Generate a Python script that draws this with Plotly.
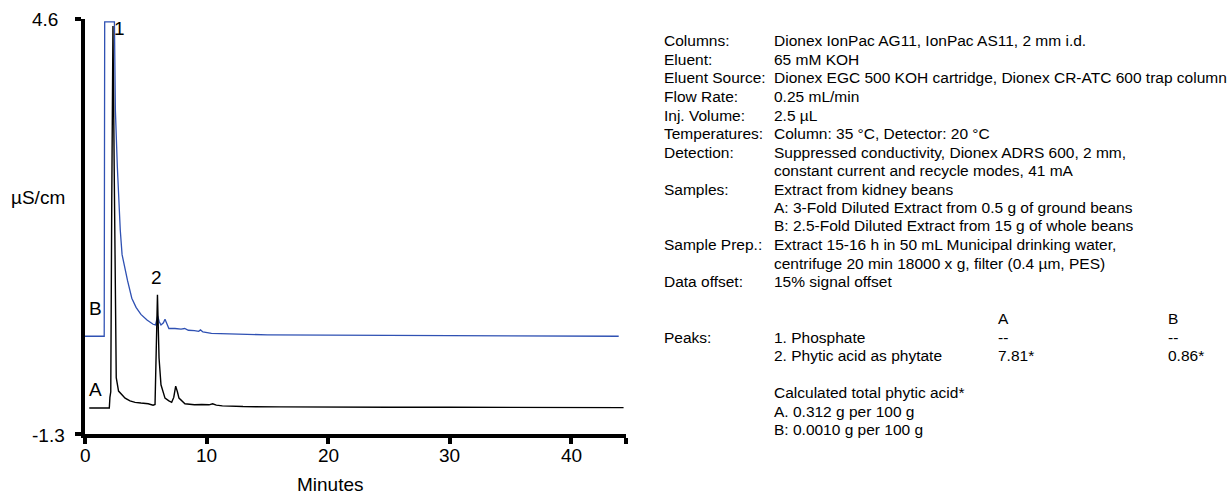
import plotly.graph_objects as go

# ---------------- data ----------------
time_B = [0, 1.58, 1.62, 2.42, 2.5, 2.6, 2.66, 2.7, 2.8, 2.9, 3.05, 3.25, 3.5, 3.85,
          4.2, 4.6, 5.1, 5.6, 5.8, 5.98, 6.1, 6.25, 6.45, 6.58, 6.75, 6.9, 7.4, 7.9,
          8.2, 8.5, 9.0, 9.35, 9.5, 9.7, 10.4, 12, 15, 20, 25, 30, 35, 40, 43.9]
signal_B = [0.09, 0.09, 4.56, 4.56, 3.3, 2.55, 2.5, 2.35, 1.95, 1.6, 1.25, 1.08, 0.88, 0.63,
            0.5, 0.4, 0.32, 0.26, 0.25, 0.38, 0.3, 0.25, 0.28, 0.33, 0.25, 0.2, 0.2, 0.19,
            0.2, 0.175, 0.17, 0.16, 0.18, 0.15, 0.13, 0.12, 0.11, 0.105, 0.1, 0.1, 0.095, 0.095, 0.09]

time_A = [0.35, 2.0, 2.05, 2.12, 2.2, 2.3, 2.4, 2.5, 2.57, 2.76, 3.0, 3.3, 3.7, 4.12, 4.6,
          5.2, 5.6, 5.72, 5.76, 5.96, 6.09, 6.25, 6.58, 6.9, 7.13, 7.3, 7.46, 7.6, 7.73,
          8.22, 9.0, 9.6, 10.2, 10.5, 10.8, 11.3, 13, 16, 20, 25, 30, 35, 40, 44.3]
signal_A = [-0.93, -0.93, -0.78, -0.7, 2.0, 4.5, 2.5, 0.2, -0.5, -0.69, -0.74, -0.79, -0.83, -0.85, -0.86,
            -0.87, -0.89, -0.89, -0.88, 0.68, -0.22, -0.6, -0.79, -0.83, -0.85, -0.78, -0.62, -0.7, -0.79,
            -0.87, -0.885, -0.88, -0.885, -0.87, -0.89, -0.9, -0.91, -0.915, -0.92, -0.92, -0.92, -0.925, -0.925, -0.925]

x_ticks = [0, 10, 20, 30, 40]
x_end = 44.5
y_min, y_max = -1.3, 4.6

peak_labels = ["1", "2"]
peak_label_x = [2.85, 5.9]
peak_label_y = [4.47, 0.93]
trace_labels = ["B", "A"]
trace_label_x = [0.9, 0.9]
trace_label_y = [0.49, -0.67]

info_labels = ["Columns:", "Eluent:", "Eluent Source:", "Flow Rate:", "Inj. Volume:",
               "Temperatures:", "Detection:", "", "Samples:", "", "", "Sample Prep.:", "",
               "Data offset:", "", "", "Peaks:", "", "", "", "", ""]
info_values = ["Dionex IonPac AG11, IonPac AS11, 2 mm i.d.",
               "65 mM KOH",
               "Dionex EGC 500 KOH cartridge, Dionex CR-ATC 600 trap column",
               "0.25 mL/min",
               "2.5 µL",
               "Column: 35 °C, Detector: 20 °C",
               "Suppressed conductivity, Dionex ADRS 600, 2 mm,",
               "constant current and recycle modes, 41 mA",
               "Extract from kidney beans",
               "A: 3-Fold Diluted Extract from 0.5 g of ground beans",
               "B: 2.5-Fold Diluted Extract from 15 g of whole beans",
               "Extract 15-16 h in 50 mL Municipal drinking water,",
               "centrifuge 20 min 18000 x g, filter (0.4 µm, PES)",
               "15% signal offset",
               "", "",
               "1. Phosphate",
               "2. Phytic acid as phytate",
               "",
               "Calculated total phytic acid*",
               "A. 0.312 g per 100 g",
               "B: 0.0010 g per 100 g"]
col_A = {15: "A", 16: "--", 17: "7.81*"}
col_B = {15: "B", 16: "--", 17: "0.86*"}

# ---------------- layout geometry ----------------
W_FIG, H_FIG = 1228, 498
L, R, T, B = 85, 602, 19, 64
PW = W_FIG - L - R
PH = H_FIG - T - B
FONT = "Liberation Sans, Arial, Helvetica, sans-serif"
AX_FONT = dict(size=19, color="black", family=FONT)
TXT_FONT = dict(size=15.5, color="black", family=FONT)


def pxx(x):
    return (x - L) / PW


def pxy(y):
    return (H_FIG - B - y) / PH


fig = go.Figure()
fig.add_trace(go.Scatter(x=time_B, y=signal_B, mode="lines",
                         line=dict(color="#2f51b3", width=1.3), showlegend=False))
fig.add_trace(go.Scatter(x=time_A, y=signal_A, mode="lines",
                         line=dict(color="black", width=1.4), showlegend=False))

ann = []
for t, xv, yv in zip(peak_labels + trace_labels, peak_label_x + trace_label_x,
                     peak_label_y + trace_label_y):
    ann.append(dict(x=xv, y=yv, xref="x", yref="y", text=t, showarrow=False,
                    font=AX_FONT, xanchor="center", yanchor="middle"))

# x tick labels (placed on the x scale)
for v in x_ticks:
    ann.append(dict(x=v, y=pxy(455), xref="x", yref="paper", text=str(v),
                    showarrow=False, xanchor="center", yanchor="middle", font=AX_FONT))

# y tick labels
ann.append(dict(x=pxx(60), y=pxy(19), xref="paper", yref="paper", text=f"{y_max}",
                showarrow=False, xanchor="right", yanchor="middle", font=AX_FONT))
ann.append(dict(x=pxx(67), y=pxy(435), xref="paper", yref="paper", text=f"{y_min}",
                showarrow=False, xanchor="right", yanchor="middle", font=AX_FONT))
# axis titles
ann.append(dict(x=pxx(38), y=pxy(197), xref="paper", yref="paper", text="µS/cm",
                showarrow=False, xanchor="center", yanchor="middle", font=AX_FONT))
ann.append(dict(x=pxx(330), y=pxy(484), xref="paper", yref="paper", text="Minutes",
                showarrow=False, xanchor="center", yanchor="middle", font=AX_FONT))

# info text block
y0, pitch = 41, 18.5
col_label_x, col_value_x, col_a_x, col_b_x = 662, 772, 996, 1166
for i, (lab, val) in enumerate(zip(info_labels, info_values)):
    yy = pxy(y0 + i * pitch)
    if lab:
        ann.append(dict(x=pxx(col_label_x), y=yy, xref="paper", yref="paper", text=lab,
                        showarrow=False, xanchor="left", yanchor="middle", font=TXT_FONT))
    if val:
        ann.append(dict(x=pxx(col_value_x), y=yy, xref="paper", yref="paper", text=val,
                        showarrow=False, xanchor="left", yanchor="middle", font=TXT_FONT))
    for cx, col in ((col_a_x, col_A), (col_b_x, col_B)):
        if i in col:
            ann.append(dict(x=pxx(cx), y=yy, xref="paper", yref="paper", text=col[i],
                            showarrow=False, xanchor="left", yanchor="middle", font=TXT_FONT))

fig.update_layout(
    width=W_FIG, height=H_FIG,
    margin=dict(l=L, r=R, t=T, b=B),
    paper_bgcolor="white", plot_bgcolor="white",
    showlegend=False,
    annotations=ann,
    xaxis=dict(range=[0, x_end], tickvals=x_ticks + [x_end], showticklabels=False,
               showline=True, linecolor="black", linewidth=3.5,
               ticks="outside", ticklen=6, tickwidth=3.5, tickcolor="black",
               showgrid=False, zeroline=False),
    yaxis=dict(range=[y_min, y_max], tickvals=[y_min, y_max], showticklabels=False,
               showline=True, linecolor="black", linewidth=3.5,
               ticks="outside", ticklen=6, tickwidth=3.5, tickcolor="black",
               showgrid=False, zeroline=False),
)

fig.write_html("out.html")
